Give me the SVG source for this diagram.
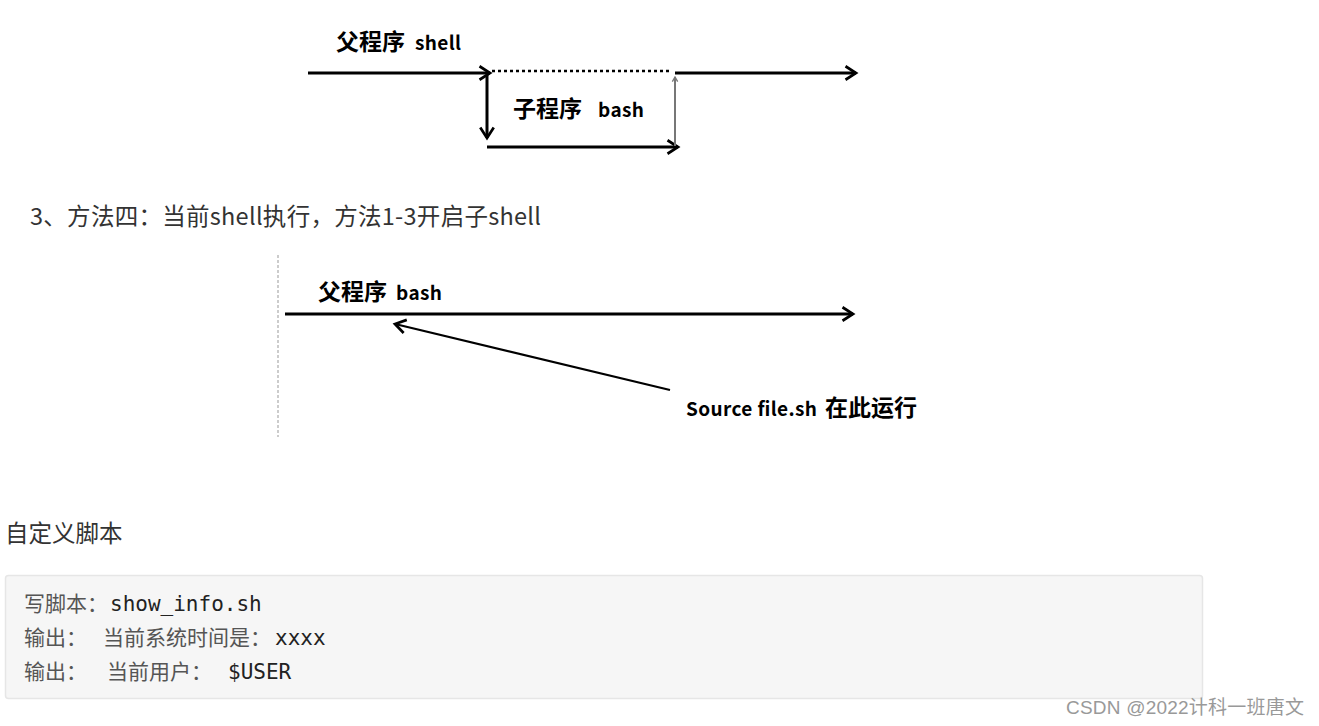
<svg xmlns="http://www.w3.org/2000/svg" width="1319" height="726" viewBox="0 0 1319 726">
<style>
.lbl{font-family:"Noto Sans CJK SC","Noto Sans",sans-serif;font-weight:bold;fill:#000}
.cn{font-size:23px}
.en{font-size:19px}
.txt{font-family:"Noto Sans CJK SC","Noto Sans",sans-serif;fill:#333;font-size:23.5px}
.code-cn{font-family:"Noto Sans CJK SC",sans-serif;fill:#555;font-size:21px}
.code-mono{font-family:"DejaVu Sans Mono","Liberation Mono",monospace;fill:#222;font-size:21px}
.ln{stroke:#000;stroke-width:3;fill:none}
</style>
<defs>
<marker id="chevL" viewBox="0 0 12 12" refX="10" refY="6" markerWidth="18" markerHeight="18" orient="auto" markerUnits="userSpaceOnUse">
<path d="M3,1.5 L10,6 L3,10.5" fill="none" stroke="#000" stroke-width="1.8"/>
</marker>
<marker id="chevS" viewBox="0 0 12 12" refX="10" refY="6" markerWidth="8" markerHeight="8" orient="auto" markerUnits="userSpaceOnUse">
<path d="M3,2 L10,6 L3,10" fill="none" stroke="#777" stroke-width="2"/>
</marker>
</defs>

<g id="diagram1-labels">
<text class="lbl" y="50"><tspan class="cn" x="336">父程序</tspan><tspan class="en" x="415" textLength="46">shell</tspan></text>
<text class="lbl" y="117"><tspan class="cn" x="513">子程序</tspan><tspan class="en" x="598" textLength="46">bash</tspan></text>
</g>

<g id="connectors1">
<line class="ln" x1="308" y1="73" x2="490" y2="73" marker-end="url(#chevL)"/>
<line x1="492" y1="71" x2="672" y2="71" stroke="#000" stroke-width="2.5" stroke-dasharray="3,3"/>
<line class="ln" x1="675" y1="73" x2="856" y2="73" marker-end="url(#chevL)"/>
<line class="ln" x1="487" y1="75" x2="487" y2="138" marker-end="url(#chevL)"/>
<line class="ln" x1="487" y1="147" x2="678" y2="147" marker-end="url(#chevL)"/>
<line x1="675" y1="146" x2="675" y2="77" stroke="#777" stroke-width="2" marker-end="url(#chevS)"/>
</g>

<g id="heading">
<text class="txt" x="30" y="225" textLength="511">3、方法四：当前shell执行，方法1-3开启子shell</text>
</g>

<g id="diagram2">
<line x1="278" y1="255" x2="278" y2="437" stroke="#999" stroke-width="1" stroke-dasharray="3,2"/>
<text class="lbl" y="300"><tspan class="cn" x="318">父程序</tspan><tspan class="en" x="396" textLength="46">bash</tspan></text>
<text class="lbl" y="416"><tspan class="en" x="686" textLength="131">Source file.sh</tspan><tspan class="cn" x="825">在此运行</tspan></text>
</g>

<g id="connectors2">
<line class="ln" x1="285" y1="314" x2="853" y2="314" marker-end="url(#chevL)"/>
<line x1="670" y1="390" x2="395" y2="324" stroke="#000" stroke-width="2.2" marker-end="url(#chevL)"/>
</g>

<g id="custom-script">
<text class="txt" x="5" y="542">自定义脚本</text>
</g>

<g id="code-block">
<rect x="5.5" y="575.5" width="1197" height="123" rx="3" fill="#f6f6f6" stroke="#e6e6e6" stroke-width="1.5"/>
<text y="611"><tspan class="code-cn" x="24">写脚本：</tspan><tspan class="code-mono" x="110">show_info.sh</tspan></text>
<text y="645"><tspan class="code-cn" x="24">输出：</tspan><tspan class="code-cn" x="103">当前系统时间是：</tspan><tspan class="code-mono" x="275">xxxx</tspan></text>
<text y="679"><tspan class="code-cn" x="24">输出：</tspan><tspan class="code-cn" x="107">当前用户：</tspan><tspan class="code-mono" x="228">$USER</tspan></text>
</g>

<g id="watermark">
<text x="1066" y="714" font-family="'Liberation Sans','Noto Sans CJK SC',sans-serif" font-size="19" fill="#999" textLength="238">CSDN @2022计科一班唐文</text>
</g>
</svg>
